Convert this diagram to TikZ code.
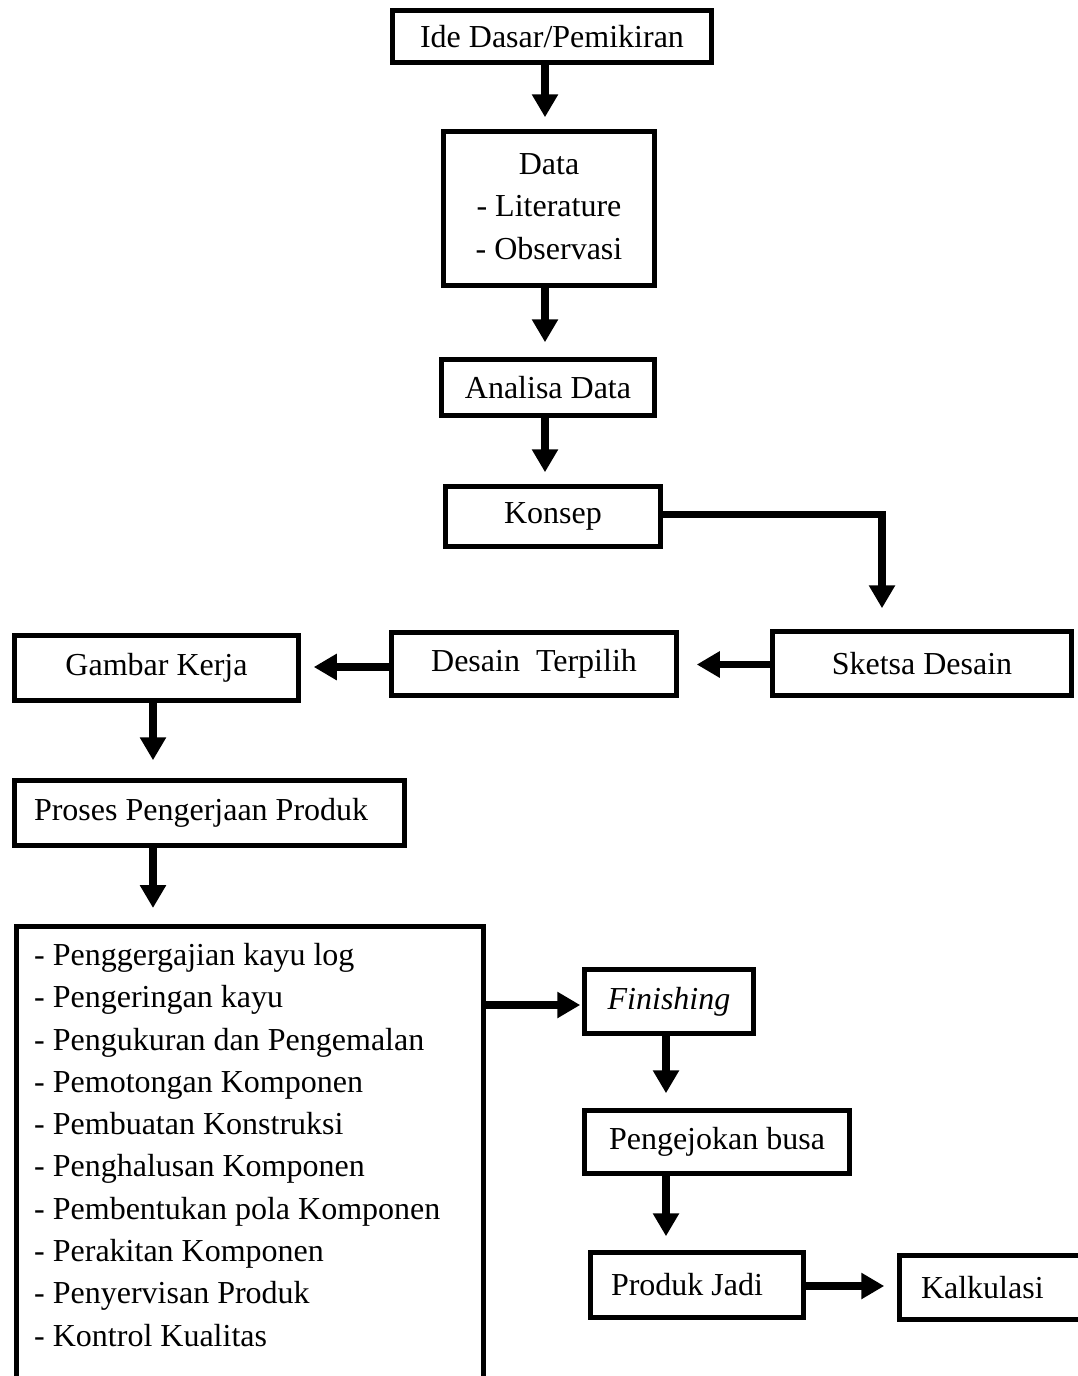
\documentclass[tikz,border=0pt]{standalone}
\usepackage{fontspec}
\setmainfont{Liberation Serif}
\usetikzlibrary{arrows.meta,calc}
\tikzset{
  box/.style={draw=black, line width=4.5pt, fill=white, rectangle, inner sep=0pt, align=center},
  flow/.style={line width=7.5pt, -{Triangle[width=25pt,length=23pt]}},
}
\begin{document}
\begin{tikzpicture}[x=1pt,y=-1pt,font=\fontsize{32}{42.3}\selectfont]
\useasboundingbox (0,0) rectangle (1078,1376);
\clip (0,0) rectangle (1078,1376);
\fill[white] (0,0) rectangle (1078,1376);
% nodes
\node[box, minimum width=319pt, minimum height=52pt] (ide) at (552,36.5) {Ide Dasar/Pemikiran};
\node[box, minimum width=211pt, minimum height=154pt] (data) at (549,208.5) {\raisebox{5pt}{\begin{tabular}{@{}c@{}}Data\\- Literature\\- Observasi\end{tabular}}};
\node[box, minimum width=213pt, minimum height=56pt] (analisa) at (548,387.5) {Analisa Data};
\node[box, minimum width=215pt, minimum height=60pt] (konsep) at (553,516.5) {\raisebox{-2pt}{Konsep}};
\node[box, minimum width=299pt, minimum height=64pt] (sketsa) at (922,663.5) {Sketsa Desain};
\node[box, minimum width=285pt, minimum height=63pt] (desain) at (534,664) {Desain\ \ Terpilih};
\node[box, minimum width=284pt, minimum height=65pt] (gambar) at (156.5,668) {Gambar Kerja};
\node[box, minimum width=390pt, minimum height=65pt] (proses) at (209.5,813) {\makebox[375pt][l]{\hspace{12pt}Proses Pengerjaan Produk}};
\node[box, anchor=north west, minimum width=467pt, minimum height=520pt] (list) at (14,924) {};
\node[anchor=north west, align=left, inner sep=0pt] (listtext) at (34,943) {- Penggergajian kayu log\\- Pengeringan kayu\\- Pengukuran dan Pengemalan\\- Pemotongan Komponen\\- Pembuatan Konstruksi\\- Penghalusan Komponen\\- Pembentukan pola Komponen\\- Perakitan Komponen\\- Penyervisan Produk\\- Kontrol Kualitas};
\node[box, minimum width=169pt, minimum height=64pt] (finishing) at (669,1001.5) {\textit{Finishing}};
\node[box, minimum width=265pt, minimum height=63pt] (peng) at (717,1142) {\makebox[250pt][l]{\hspace{17pt}Pengejokan busa}};
\node[box, minimum width=213pt, minimum height=65pt] (produk) at (697,1285) {\makebox[200pt][l]{\hspace{14pt}Produk Jadi}};
\node[box, minimum width=189pt, minimum height=64pt] (kalk) at (994,1287.5) {\makebox[180pt][l]{\hspace{17pt}Kalkulasi}};
% connectors
\draw[flow, shorten >=12pt] ([xshift=-7pt]ide.south) -- ([xshift=-7pt]ide.south |- data.north);
\draw[flow, shorten >=15pt] ([xshift=-4pt]data.south) -- ([xshift=-4pt]data.south |- analisa.north);
\draw[flow, shorten >=12pt] ([xshift=-3pt]analisa.south) -- ([xshift=-3pt]analisa.south |- konsep.north);
\draw[flow, shorten >=21pt] ([yshift=2pt]konsep.east) -| ([xshift=-40pt]sketsa.north);
\draw[flow, shorten >=18pt] ([yshift=-1pt]sketsa.west) -- ([yshift=-1pt]sketsa.west -| desain.east);
\draw[flow, shorten >=13pt] ([yshift=-3pt]desain.west) -- ([yshift=-3pt]desain.west -| gambar.east);
\draw[flow, shorten >=18pt] ([xshift=-3.5pt]gambar.south) -- ([xshift=-3.5pt]gambar.south |- proses.north);
\draw[flow, shorten >=16pt] ([xshift=-3.5pt]gambar.south |- proses.south) -- ([xshift=-3.5pt]gambar.south |- list.north);
\draw[flow, shorten >=2pt] ([yshift=-3.5pt]finishing.west -| list.east) -- ([yshift=-3.5pt]finishing.west);
\draw[flow, shorten >=15pt] ([xshift=-3pt]finishing.south) -- ([xshift=-3pt]finishing.south |- peng.north);
\draw[flow, shorten >=14pt] ([xshift=-3pt]finishing.south |- peng.south) -- ([xshift=-3pt]finishing.south |- produk.north);
\draw[flow, shorten >=13pt] ([yshift=-1pt]produk.east) -- ([yshift=-1pt]produk.east -| kalk.west);
\end{tikzpicture}
\end{document}
